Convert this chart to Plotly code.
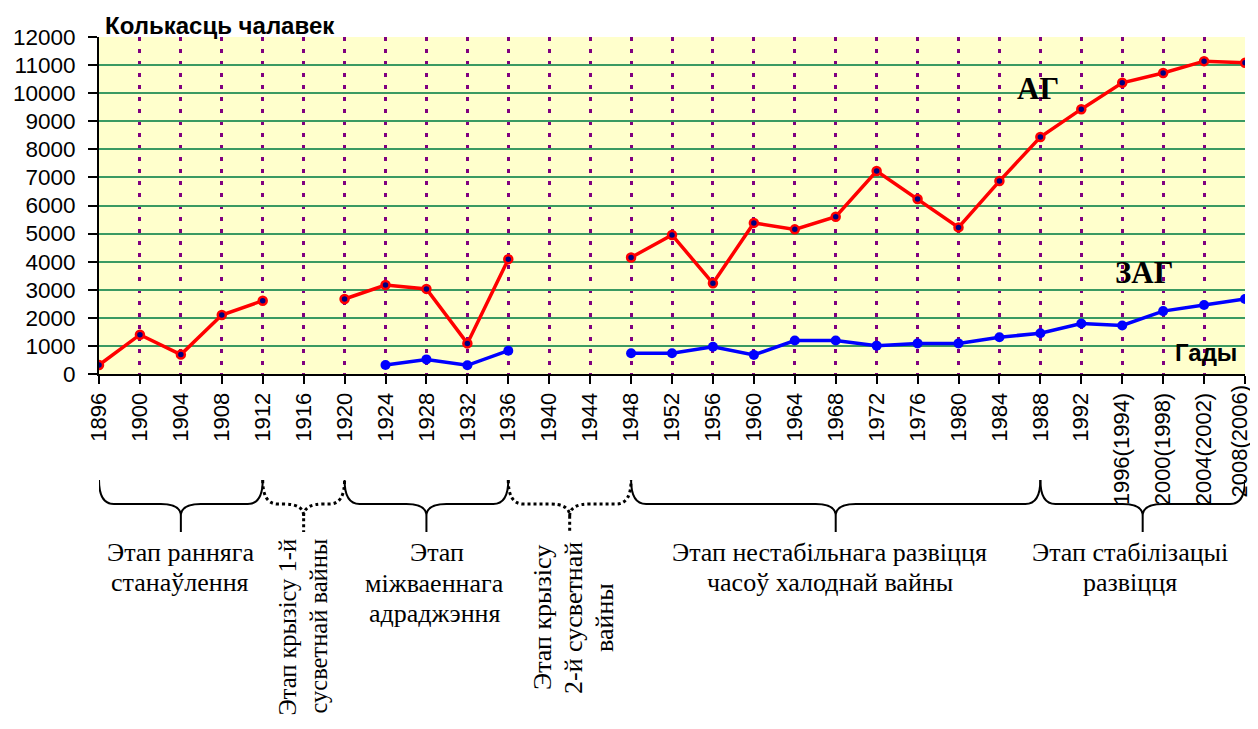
import plotly.graph_objects as go

# ---------------- data ----------------
years = list(range(1896, 2009, 4))
tick_labels = ["1896", "1900", "1904", "1908", "1912", "1916", "1920", "1924", "1928",
               "1932", "1936", "1940", "1944", "1948", "1952", "1956", "1960", "1964",
               "1968", "1972", "1976", "1980", "1984", "1988", "1992",
               "1996(1994)", "2000(1998)", "2004(2002)", "2008(2006)"]
summer_ag = [320, 1400, 690, 2100, 2610, None, 2670, 3170, 3030, 1090, 4090, None, None,
             4150, 4950, 3230, 5380, 5150, 5600, 7230, 6230, 5220, 6870, 8440,
             9430, 10370, 10720, 11140, 11080]
winter_zag = [None, None, None, None, None, None, None, 320, 520, 310, 830, None, None,
              740, 740, 970, 680, 1190, 1190, 1010, 1090, 1090, 1310, 1450,
              1800, 1730, 2240, 2460, 2670]
y_ticks = list(range(0, 12001, 1000))
y_tick_text = [str(v) for v in y_ticks]

# ---------------- layout geometry (page pixels) ----------------
W, H = 1258, 729
OFF = 8                      # default body margin of the html page
L, R, T, B = 99, 1245, 37, 374
FIG_W, FIG_H = W - 2 * OFF, H - 2 * OFF


def xp(px):
    return (px - L) / (R - L)


def yp(py):
    return (B - py) / (B - T)


ARIAL = "Liberation Sans, Arial, sans-serif"
TIMES = "Liberation Serif"

fig = go.Figure()
fig.add_trace(go.Scatter(
    x=years, y=summer_ag, mode="lines+markers", name="АГ", connectgaps=False,
    line=dict(color="#FF0000", width=3.5),
    marker=dict(symbol="circle", size=8, color="#000080", line=dict(color="#FF0000", width=2.5)),
))
fig.add_trace(go.Scatter(
    x=years, y=winter_zag, mode="lines+markers", name="ЗАГ", connectgaps=False,
    line=dict(color="#0000FF", width=3.5),
    marker=dict(symbol="circle", size=10, color="#0000FF"),
))

fig.update_layout(
    width=FIG_W, height=FIG_H, autosize=False,
    margin=dict(l=L - OFF, r=(OFF + FIG_W) - R, t=T - OFF, b=(OFF + FIG_H) - B, pad=0),
    paper_bgcolor="white", plot_bgcolor="#FFFFCC",
    showlegend=False,
    font=dict(family=ARIAL, color="black"),
)
fig.update_xaxes(
    range=[years[0], years[-1]], tickmode="array", tickvals=years, ticktext=tick_labels,
    tickangle=-90, tickfont=dict(family=ARIAL, size=22, color="black"),
    showgrid=True, gridcolor="#800080", gridwidth=2.5, griddash="4px,8px",
    showline=True, linecolor="black", linewidth=2,
    ticks="outside", ticklen=8, tickwidth=1.5, tickcolor="black",
    zeroline=False,
)
fig.update_yaxes(
    range=[0, 12000], tickmode="array", tickvals=y_ticks, ticktext=y_tick_text,
    tickfont=dict(family=ARIAL, size=22.5, color="black"),
    ticklabelstandoff=8,
    showgrid=True, gridcolor="#3A9A62", gridwidth=2,
    showline=True, linecolor="black", linewidth=2,
    ticks="outside", ticklen=9, tickwidth=1.5, tickcolor="black",
    zeroline=False,
)

ann = []
ann.append(dict(text="<b>Колькасць чалавек</b>", x=xp(103), y=yp(25), xanchor="left", yanchor="middle",
                font=dict(family=ARIAL, size=24, color="black")))
ann.append(dict(text="<b>Гады</b>", x=xp(1239), y=yp(352), xanchor="right", yanchor="middle",
                font=dict(family=ARIAL, size=24, color="black")))
ann.append(dict(text="<b>АГ</b>", x=xp(1038), y=yp(88), xanchor="center", yanchor="middle",
                font=dict(family=TIMES, size=31, color="black")))
ann.append(dict(text="<b>ЗАГ</b>", x=xp(1144), y=yp(272), xanchor="center", yanchor="middle",
                font=dict(family=TIMES, size=31, color="black")))
# the last category label sits at the very edge of the page; plotly hides
# tick labels that would spill past the figure, so it is placed just inside
ann.append(dict(text=tick_labels[-1], x=xp(1239), y=yp(383), xanchor="center", yanchor="top",
                textangle=-90, font=dict(family=ARIAL, size=22, color="black")))

STAGE_SIZE = 26
stage_lines = [
    ("Этап ранняга", 180, 552), ("станаўлення", 180, 582),
    ("Этап", 437, 552), ("міжваеннага", 434, 583), ("адраджэння", 434, 613),
    ("Этап нестабільнага развіцця", 829, 552), ("часоў халоднай вайны", 830, 582),
    ("Этап стабілізацыі", 1130, 552), ("развіцця", 1130, 582),
]
for txt, cx, cy in stage_lines:
    ann.append(dict(text=txt, x=xp(cx), y=yp(cy), xanchor="center", yanchor="middle",
                    font=dict(family=TIMES, size=STAGE_SIZE, color="black")))

rot_top = [("Этап крызісу 1-й", 287, 537), ("сусветнай вайны", 318, 537)]
for txt, cx, ty in rot_top:
    ann.append(dict(text=txt, x=xp(cx), y=yp(ty), xanchor="center", yanchor="top", textangle=-90,
                    font=dict(family=TIMES, size=24.5, color="black")))
rot_mid = [("Этап крызісу", 542, 618), ("2-й сусветнай", 573, 618), ("вайны", 604, 618)]
for txt, cx, my in rot_mid:
    ann.append(dict(text=txt, x=xp(cx), y=yp(my), xanchor="center", yanchor="middle", textangle=-90,
                    font=dict(family=TIMES, size=STAGE_SIZE, color="black")))

for a in ann:
    a.update(xref="paper", yref="paper", showarrow=False)
fig.update_layout(annotations=ann)

# ---------------- braces under the axis ----------------
YEAR_PX = (R - L) / (years[-1] - years[0])


def brace_path(x1, x2, xm, top=480, mid=504, tip=532):
    d = 15 / YEAR_PX
    dm = 20 / YEAR_PX
    ym = yp(mid)
    yk = yp(mid + 12)
    return (f"M {x1},{yp(top)} Q {x1},{ym} {x1 + d},{ym} L {xm - dm},{ym} "
            f"Q {xm},{ym} {xm},{yk} L {xm},{yp(tip)} M {xm},{yk} "
            f"Q {xm},{ym} {xm + dm},{ym} L {x2 - d},{ym} Q {x2},{ym} {x2},{yp(top)}")


braces = [
    (1896, 1912, 1904, "solid"),
    (1912, 1920, 1916, "dot"),
    (1920, 1936, 1928, "solid"),
    (1936, 1948, 1942, "dot"),
    (1948, 1988, 1968, "solid"),
    (1988, 2008, 1998, "solid"),
]
shapes = []
for x1, x2, xm, dash in braces:
    shapes.append(dict(type="path", xref="x", yref="paper", path=brace_path(x1, x2, xm),
                       line=dict(color="black", width=3 if dash == "dot" else 2, dash=dash),
                       layer="above"))
fig.update_layout(shapes=shapes)

fig.write_html("out.html")
